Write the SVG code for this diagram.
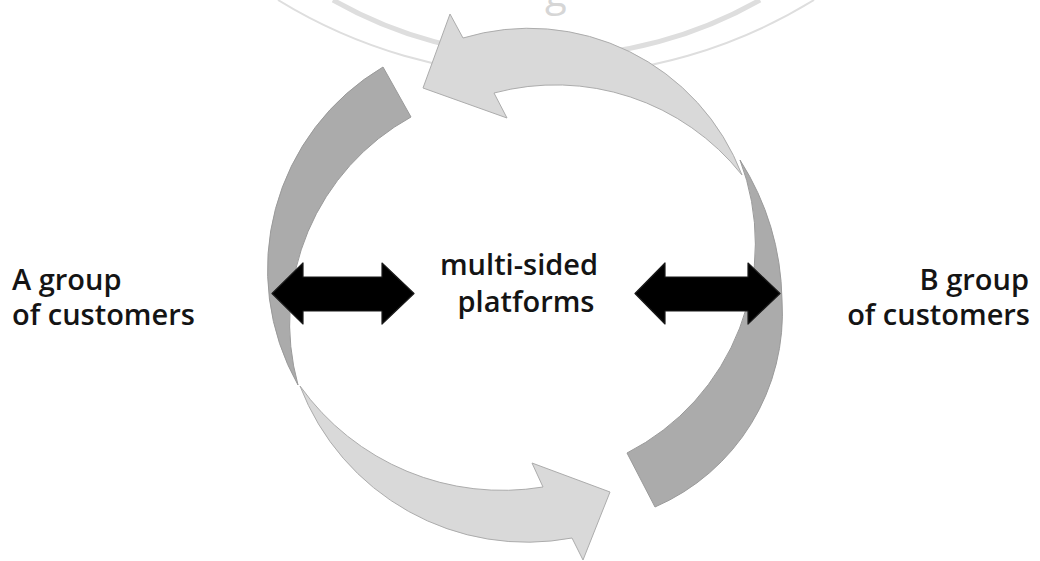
<svg xmlns="http://www.w3.org/2000/svg" width="1040" height="561" viewBox="0 0 1040 561">
  <style>
    .label { font-family: "Open Sans", "Liberation Sans", sans-serif; font-size: 29px; font-weight: 600; fill: #141414; }
    .band { fill: #ababab; stroke: #9a9a9a; stroke-width: 1; stroke-linejoin: round; }
    .flow { fill: #d9d9d9; stroke: #acacac; stroke-width: 1; stroke-linejoin: round; }
    .link { fill: #000000; stroke: #1a1a1a; stroke-width: 1.2; stroke-linejoin: round; }
    .mark { fill: none; stroke: #dedede; }
  </style>

  <rect width="1040" height="561" fill="#ffffff"/>

  <!-- faint background mark -->
  <g id="backdrop">
    <path class="mark" stroke-width="5" d="M 333,0 A 431.6 431.6 0 0 0 760,0"/>
    <path class="mark" stroke-width="2" d="M 278,0 A 511.5 511.5 0 0 0 814,0"/>
    <text x="545" y="6" font-family="'Open Sans', 'Liberation Sans', sans-serif" font-size="40" fill="#d6d6d6">g</text>
  </g>

  <!-- circular flow between the two customer groups -->
  <g id="cycle">
    <!-- left band: thick cut end at top, thinning towards the bottom -->
    <path class="band" d="M 383,67 A 235 235 0 0 0 298,385 A 235 235 0 0 1 411,117 Z"/>
    <!-- right band: thin at top, thick cut end at the bottom -->
    <path class="band" d="M 740,160 A 270 270 0 0 1 782,300 A 211 211 0 0 1 655,507 L 627,453 A 235 235 0 0 0 740,160 Z"/>
    <!-- upper curved arrow pointing left -->
    <path class="flow" d="M 463,38 A 228 228 0 0 1 742,175 A 238 238 0 0 0 494,93 L 507,118 L 423,88 L 450,14 Z"/>
    <!-- lower curved arrow pointing right -->
    <path class="flow" d="M 300,386 A 243 243 0 0 0 572,538 L 583,560 L 610,492 L 532,463 L 543,487 A 248.5 248.5 0 0 1 300,386 Z"/>
  </g>

  <!-- two-way links to the platform -->
  <g id="connectors">
    <path class="link" d="M 272,293.5 L 303,263 L 303,277 L 382,277 L 382,263 L 414,293.5 L 382,324 L 382,311 L 303,311 L 303,324 Z"/>
    <path class="link" d="M 635,293.5 L 665,263 L 665,277 L 748,277 L 748,263 L 780,293.5 L 748,324 L 748,311 L 665,311 L 665,324 Z"/>
  </g>

  <g id="node-a-group">
    <text class="label" x="12" y="290">A group</text>
    <text class="label" x="12" y="325">of customers</text>
  </g>

  <g id="node-platform">
    <text class="label" x="519" y="275" text-anchor="middle">multi-sided</text>
    <text class="label" x="526" y="312" text-anchor="middle">platforms</text>
  </g>

  <g id="node-b-group">
    <text class="label" x="1029" y="290" text-anchor="end">B group</text>
    <text class="label" x="1030" y="325" text-anchor="end">of customers</text>
  </g>
</svg>
